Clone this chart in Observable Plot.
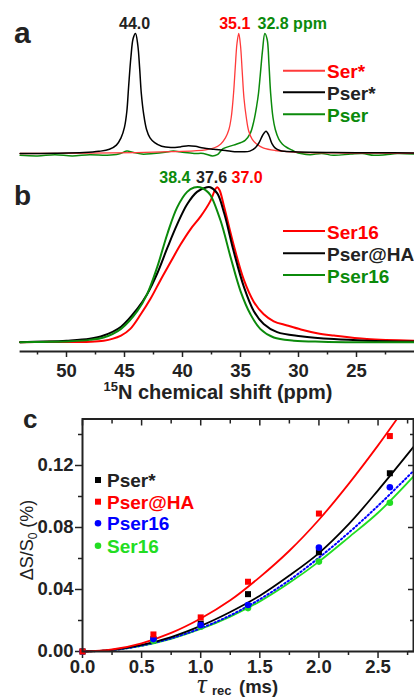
<!DOCTYPE html>
<html><head><meta charset="utf-8">
<script src="https://cdn.jsdelivr.net/npm/d3@7"></script>
<script src="https://cdn.jsdelivr.net/npm/@observablehq/plot@0.6"></script>
<style>
html,body{margin:0;padding:0;background:#fff;}
#root{position:relative;width:414px;height:698px;overflow:hidden;font-family:"Liberation Sans",Arial,Helvetica,sans-serif;}
#root svg{position:absolute;left:0;}
</style></head><body><div id="root"></div>
<script>
// ---------- Panel a: 15N spectra (ppm, normalized intensity) ----------
const aSerStar = [[54,0],[48,0.003],[44,0.008],[41,0.015],[39,0.022],[38,0.03],[37.2,0.05],[36.7,0.08],[36.3,0.13],[36.0,0.2],[35.8,0.3],[35.6,0.5],[35.45,0.72],[35.3,0.92],[35.15,1.0],[35.0,0.9],[34.85,0.68],[34.7,0.46],[34.5,0.3],[34.3,0.19],[34.0,0.12],[33.5,0.07],[33,0.045],[32,0.025],[31,0.015],[29.5,0.008],[26,0.004],[20,0.002]];
const aPserStar = [[54,0],[51,0.002],[48.5,0.008],[47.2,0.018],[46.3,0.035],[45.7,0.07],[45.3,0.13],[45.0,0.22],[44.8,0.35],[44.65,0.55],[44.45,0.8],[44.25,0.96],[44.05,1.0],[43.85,0.9],[43.7,0.72],[43.55,0.5],[43.35,0.33],[43.1,0.2],[42.8,0.13],[42.4,0.09],[41.8,0.06],[41.0,0.05],[40.2,0.055],[39.5,0.065],[38.9,0.06],[38.2,0.045],[37.3,0.035],[36.3,0.025],[35.5,0.015],[34.8,0.015],[34.2,0.02],[33.7,0.05],[33.4,0.09],[33.1,0.15],[32.8,0.186],[32.55,0.15],[32.3,0.085],[32.0,0.045],[31.6,0.025],[31.2,0.018],[30,0.012],[27,0.008],[23,0.006],[20,0.005]];
const aPser = [[54,-0.015],[52.5,-0.02],[51,-0.01],[49.5,-0.02],[48,-0.01],[46.5,-0.015],[45.5,-0.005],[44.8,0.02],[44.3,0.01],[43.5,-0.005],[42.5,0.0],[41.5,0.01],[40.8,0.02],[40,0.01],[39,0.0],[38.2,0.0],[37.4,-0.02],[37.0,-0.01],[36.5,0.04],[35.6,0.07],[34.6,0.11],[34.15,0.17],[33.85,0.27],[33.6,0.4],[33.45,0.5],[33.3,0.65],[33.1,0.86],[32.9,1.0],[32.7,0.95],[32.55,0.75],[32.4,0.5],[32.2,0.3],[32.0,0.2],[31.7,0.12],[31.4,0.08],[31.0,0.05],[30.6,0.03],[30.2,0.01],[29.8,0.0],[29,-0.01],[28,0.0],[27,-0.015],[25.5,-0.005],[24.5,0.0],[23.5,-0.015],[22.5,-0.01],[21.5,0.0],[20,-0.005]];
const aPeakPpm = [44.0, 35.1, 32.8];
const aPeakText = ["44.0", "35.1", "32.8 ppm"];
const aLegend = ["Ser*", "Pser*", "Pser"];

// ---------- Panel b ----------
const bSer16 = [[54,0],[52,0.002],[46.8,0.01],[45.3,0.043],[44.5,0.086],[43.6,0.18],[42.76,0.28],[41.9,0.4],[41.0,0.52],[40.17,0.63],[39.3,0.73],[38.45,0.81],[37.6,0.91],[37.15,0.99],[37.0,1.0],[36.8,0.98],[36.4,0.87],[35.6,0.63],[34.7,0.4],[33.85,0.26],[33.0,0.18],[32.13,0.135],[30.98,0.108],[29.8,0.082],[28.4,0.058],[26.95,0.043],[24.1,0.02],[20,0.01]];
const bPserHA = [[54,0],[52,0.004],[50,0.01],[48,0.022],[46.8,0.043],[45.3,0.1],[43.9,0.215],[43.05,0.31],[42.2,0.44],[41.3,0.61],[40.46,0.76],[39.6,0.89],[38.75,0.97],[37.9,1.0],[37.6,1.0],[37.0,0.96],[36.4,0.83],[35.6,0.59],[34.7,0.355],[33.85,0.2],[33.0,0.118],[31.84,0.065],[29.8,0.039],[26.95,0.02],[24.1,0.01],[20,0.004]];
const bPser16 = [[54,0],[52,0.002],[49.65,0.006],[48,0.015],[46.8,0.03],[45.3,0.086],[43.9,0.2],[43.05,0.31],[42.2,0.48],[41.3,0.70],[40.46,0.87],[39.6,0.97],[39.0,0.998],[38.5,1.0],[38.0,0.98],[37.6,0.95],[36.7,0.78],[35.86,0.55],[35.0,0.33],[34.14,0.18],[33.3,0.086],[32.13,0.03],[30.4,0.01],[28,0.003],[25,0.0],[20,0.0]];
const bPeakPpm = [38.4, 37.6, 37.0];
const bPeakText = ["38.4", "37.6", "37.0"];
const bLegend = ["Ser16", "Pser@HA", "Pser16"];
const shiftTicks = [50, 45, 40, 35, 30, 25];
const shiftMinor = [52.5, 47.5, 42.5, 37.5, 32.5, 27.5, 22.5];

// ---------- Panel c ----------
const tau = [0, 0.6, 1.0, 1.4, 2.0, 2.6];
const cPserStar = [0, 0.008, 0.018, 0.037, 0.064, 0.115];
const cPserHA = [0, 0.011, 0.022, 0.045, 0.089, 0.139];
const cPser16 = [0, 0.008, 0.017, 0.030, 0.067, 0.106];
const cSer16 = [0, 0.007, 0.016, 0.028, 0.058, 0.096];
const fitX = [0, 0.25, 0.5, 0.75, 1, 1.25, 1.5, 1.75, 2, 2.25, 2.5, 2.8];
const fitPserStar = [0, 0.001, 0.0042, 0.0093, 0.0165, 0.0255, 0.036, 0.049, 0.0635, 0.082, 0.104, 0.132];
const fitSer16 = [0, 0.0009, 0.0037, 0.0082, 0.0145, 0.0225, 0.0323, 0.0443, 0.058, 0.0735, 0.0895, 0.113];
const fitPser16 = [0, 0.0009, 0.0038, 0.0085, 0.015, 0.0233, 0.0337, 0.046, 0.0605, 0.0765, 0.094, 0.1165];
const fitHAX = [0, 0.25, 0.5, 0.75, 1, 1.25, 1.5, 1.75, 2, 2.25, 2.5, 2.66];
const fitPserHA = [0, 0.0013, 0.0053, 0.012, 0.0213, 0.033, 0.048, 0.065, 0.085, 0.108, 0.133, 0.15];
const cYTicks = [0, 0.04, 0.08, 0.12];
const cYMinor = [0.02, 0.06, 0.10, 0.14];
const cXTicks = [0, 0.5, 1.0, 1.5, 2.0, 2.5];
const cXMinor = [0.25, 0.75, 1.25, 1.75, 2.25, 2.75];
const cLegend = ["Pser*", "Pser@HA", "Pser16", "Ser16"];

// ---------- colours ----------
const RED = "#ff0000", RED_A = "#ff3a3a", BLK = "#000000", GRN = "#0b8a0b", LIME = "#22dd22", BLU = "#0000ff", TXT = "#222222";
const FONT = '"Liberation Sans", Arial, Helvetica, sans-serif';

const rows = arr => arr.map(([ppm, v]) => ({ppm, v}));
const pts = (xs, ys) => xs.map((x, i) => ({x, y: ys[i]}));
const root = document.getElementById("root");
const baseStyle = {fontFamily: FONT, fontSize: "18px", fontWeight: "bold", color: TXT, background: "transparent", overflow: "visible"};
const AX = {fontSize: 18.5, fontWeight: "bold", fill: TXT, strokeWidth: 1.5, label: null};
const BLANK = {strokeWidth: 1.5, tickFormat: () => "", label: null};

// Panel a
const pa = Plot.plot({
  width: 414, height: 160, marginLeft: 19.6, marginRight: 0, marginTop: 33, marginBottom: 7,
  x: {domain: [54, 20], axis: null}, y: {domain: [0, 1], axis: null},
  style: baseStyle,
  marks: [
    Plot.line(rows(aPser), {x: "ppm", y: "v", stroke: GRN, strokeWidth: 1.5, curve: "catmull-rom"}),
    Plot.line(rows(aSerStar), {x: "ppm", y: "v", stroke: RED_A, strokeWidth: 1.3, curve: "catmull-rom"}),
    Plot.line(rows(aPserStar), {x: "ppm", y: "v", stroke: BLK, strokeWidth: 1.5, curve: "catmull-rom"}),
    Plot.text([0], {x: () => aPeakPpm[0], y: () => 1, text: () => aPeakText[0], fill: TXT, fontSize: 16, fontWeight: "bold", dx: -1.5, dy: -10}),
    Plot.text([1], {x: () => aPeakPpm[1], y: () => 1, text: () => aPeakText[1], fill: RED, fontSize: 16, fontWeight: "bold", textAnchor: "end", dx: 11, dy: -10}),
    Plot.text([2], {x: () => aPeakPpm[2], y: () => 1, text: () => aPeakText[2], fill: GRN, fontSize: 16, fontWeight: "bold", textAnchor: "start", dx: -8.5, dy: -10})
  ]
});
pa.style.top = "0px";
root.appendChild(pa);

// Panel b
const pb = Plot.plot({
  width: 414, height: 240, marginLeft: 19.6, marginRight: 0, marginTop: 26.7, marginBottom: 49,
  x: {domain: [54, 20], label: null}, y: {domain: [-0.06, 1], axis: null},
  style: baseStyle,
  marks: [
    Plot.ruleY([-0.06], {strokeWidth: 2}),
    Plot.axisX({...AX, ticks: shiftTicks, tickSize: 6, tickPadding: 6, tickFormat: d => String(d)}),
    Plot.axisX({...BLANK, ticks: shiftMinor, tickSize: 3.5}),
    Plot.line(rows(bSer16), {x: "ppm", y: "v", stroke: RED, strokeWidth: 2, curve: "catmull-rom"}),
    Plot.line(rows(bPserHA), {x: "ppm", y: "v", stroke: BLK, strokeWidth: 2, curve: "catmull-rom"}),
    Plot.line(rows(bPser16), {x: "ppm", y: "v", stroke: GRN, strokeWidth: 2, curve: "catmull-rom"}),
    Plot.text([0], {x: () => bPeakPpm[0], y: () => 1, text: () => bPeakText[0], fill: GRN, fontSize: 16, fontWeight: "bold", textAnchor: "end", dx: -10.6, dy: -9.7}),
    Plot.text([1], {x: () => bPeakPpm[1], y: () => 1, text: () => bPeakText[1], fill: TXT, fontSize: 16, fontWeight: "bold", dx: 1.2, dy: -9.7}),
    Plot.text([2], {x: () => bPeakPpm[2], y: () => 1, text: () => bPeakText[2], fill: RED, fontSize: 16, fontWeight: "bold", textAnchor: "start", dx: 14.2, dy: -9.7})
  ]
});
pb.style.top = "160px";
root.appendChild(pb);

// Panel c
const pc = Plot.plot({
  width: 414, height: 298, marginLeft: 82, marginRight: 1, marginTop: 18.5, marginBottom: 47,
  x: {domain: [0, 2.8], label: null}, y: {domain: [0, 0.15], label: null},
  style: baseStyle,
  marks: [
    Plot.axisY({...AX, ticks: cYTicks, tickSize: 7, tickPadding: 2, tickFormat: d => d.toFixed(2)}),
    Plot.axisY({...BLANK, ticks: cYMinor, tickSize: 4}),
    Plot.axisY({...BLANK, anchor: "right", ticks: cYTicks, tickSize: 6, dx: -6}),
    Plot.axisY({...BLANK, anchor: "right", ticks: cYMinor, tickSize: 4, dx: -4}),
    Plot.axisX({...AX, ticks: cXTicks, tickSize: 7, tickPadding: 1, tickFormat: d => d.toFixed(1)}),
    Plot.axisX({...BLANK, ticks: cXMinor, tickSize: 4}),
    Plot.axisX({...BLANK, anchor: "top", ticks: cXTicks, tickSize: 6, dy: 6}),
    Plot.axisX({...BLANK, anchor: "top", ticks: cXMinor, tickSize: 4, dy: 4}),
    Plot.line(pts(fitX, fitSer16), {x: "x", y: "y", stroke: LIME, strokeWidth: 1.8, curve: "catmull-rom"}),
    Plot.line(pts(fitX, fitPser16), {x: "x", y: "y", stroke: BLU, strokeWidth: 2, strokeDasharray: "1.5,2.5", curve: "catmull-rom"}),
    Plot.line(pts(fitX, fitPserStar), {x: "x", y: "y", stroke: BLK, strokeWidth: 1.8, curve: "catmull-rom"}),
    Plot.line(pts(fitHAX, fitPserHA), {x: "x", y: "y", stroke: RED, strokeWidth: 1.8, curve: "catmull-rom"}),
    Plot.dot(pts(tau, cPserStar), {x: "x", y: "y", symbol: "square", r: 3.4, fill: BLK, stroke: "none"}),
    Plot.dot(pts(tau, cSer16), {x: "x", y: "y", symbol: "circle", r: 3.3, fill: LIME, stroke: "none"}),
    Plot.dot(pts(tau, cPser16), {x: "x", y: "y", symbol: "circle", r: 3.3, fill: BLU, stroke: "none"}),
    Plot.dot(pts(tau, cPserHA), {x: "x", y: "y", symbol: "square", r: 3.4, fill: RED, stroke: "none"}),
    Plot.frame({strokeWidth: 2})
  ]
});
pc.style.top = "400px";
root.appendChild(pc);

// ---------- overlay annotations: panel letters, legends, axis titles ----------
const ov = d3.select(root).append("svg").attr("width", 414).attr("height", 698)
  .style("position", "absolute").style("top", "0px").style("left", "0px")
  .attr("font-family", FONT).attr("font-weight", "bold").attr("fill", TXT);
ov.append("text").attr("x", 14).attr("y", 43).attr("font-size", 30).text("a");
ov.append("text").attr("x", 14).attr("y", 205).attr("font-size", 28).text("b");
ov.append("text").attr("x", 23).attr("y", 428).attr("font-size", 26).text("c");

function lineLegend(names, colors, lineColors, ys) {
  names.forEach((n, i) => {
    ov.append("line").attr("x1", 283).attr("x2", 325).attr("y1", ys[i]).attr("y2", ys[i])
      .attr("stroke", lineColors[i]).attr("stroke-width", 2);
    ov.append("text").attr("x", 327).attr("y", ys[i] + 7.5).attr("font-size", 19).attr("fill", colors[i]).text(n);
  });
}
lineLegend(aLegend, [RED, TXT, GRN], [RED_A, BLK, GRN], [70.7, 92.3, 114.3]);
lineLegend(bLegend, [RED, TXT, GRN], [RED, BLK, GRN], [231, 253.3, 275]);

// panel b axis title
const tb = ov.append("text").attr("x", 218).attr("y", 399).attr("text-anchor", "middle").attr("font-size", 20);
tb.append("tspan").attr("font-size", 13).attr("dy", -8).text("15");
tb.append("tspan").attr("dy", 8).text("N chemical shift (ppm)");

// panel c legend
const cCols = [TXT, RED, BLU, LIME], cMk = [BLK, RED, BLU, LIME], cSym = ["s", "s", "c", "c"], cYs = [480, 501.7, 523.3, 545.7];
cLegend.forEach((n, i) => {
  if (cSym[i] === "s") ov.append("rect").attr("x", 95).attr("y", cYs[i] - 3).attr("width", 6).attr("height", 6).attr("fill", cMk[i]);
  else ov.append("circle").attr("cx", 98).attr("cy", cYs[i]).attr("r", 3.3).attr("fill", cMk[i]);
  ov.append("text").attr("x", 107).attr("y", cYs[i] + 7).attr("font-size", 19).attr("fill", cCols[i]).text(n);
});

// panel c y label
const yl = ov.append("text").attr("transform", "translate(33,540) rotate(-90)").attr("text-anchor", "middle")
  .attr("font-size", 18).attr("font-weight", "normal");
yl.append("tspan").text("\u0394S/S");
yl.append("tspan").attr("font-size", 12).attr("dy", 4).text("0");
yl.append("tspan").attr("dy", -4).text(" (%)");

// panel c x label
ov.append("text").attr("x", 197).attr("y", 693).attr("font-family", '"Liberation Serif", "Times New Roman", serif')
  .attr("font-style", "italic").attr("font-weight", "normal").attr("font-size", 27).text("\u03C4");
ov.append("text").attr("x", 212).attr("y", 695).attr("font-size", 13).text("rec");
ov.append("text").attr("x", 239).attr("y", 693).attr("font-size", 18.5).text("(ms)");
</script></body></html>
